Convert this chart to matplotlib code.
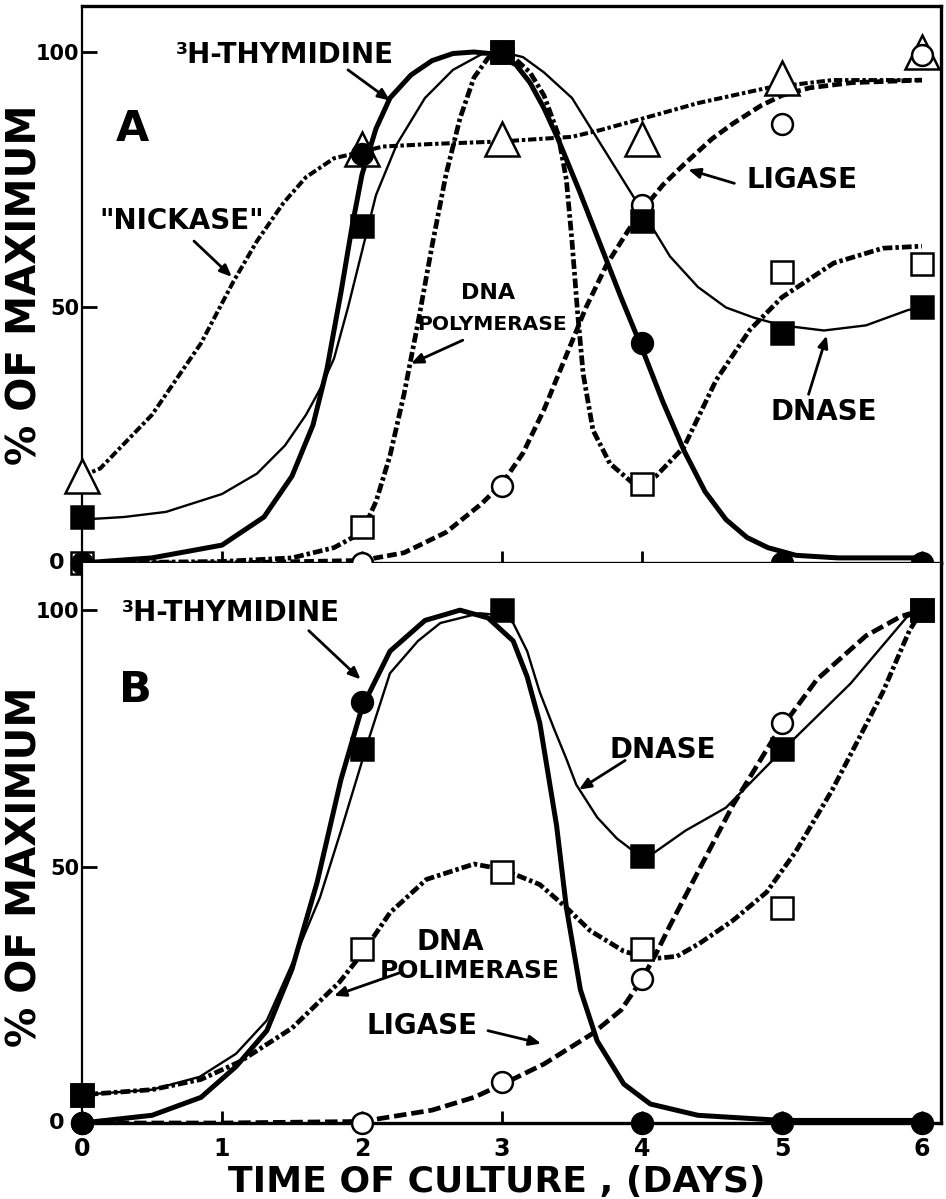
import matplotlib
matplotlib.use("Agg")
import matplotlib.pyplot as plt

plt.rcParams['font.family'] = ['DejaVu Sans']
plt.rcParams['font.weight'] = 'bold'
plt.rcParams['lines.scale_dashes'] = False

# ---------------- data: measured points ----------------
days = [0, 2, 3, 4, 5, 6]

A_thymidine = [0, 80, 100, 43, 0, 0]
A_dnase = [9, 66, 100, 67, 45, 50]
A_dnapol = [0, 7, 100, 15.5, 57, 58.5]
A_ligase = [0, 0, 15, 70, 86, 99.5]
A_nickase = [17, 81, 83, 83, 95, 100]

B_thymidine = [0, 82, 100, 0, 0, 0]
B_dnase = [5.5, 73, 100, 52, 73, 100]
B_dnapol = [5.5, 34, 49, 34, 42, 100]
B_ligase = [0, 0, 8, 28, 78, 100]

# ---------------- data: hand-drawn curves ----------------
A_thym_cx = [0, 0.5, 1.0, 1.3, 1.5, 1.65, 1.75, 1.85, 1.93, 2.0, 2.1, 2.2, 2.35, 2.5, 2.65, 2.8,
             2.95, 3.1, 3.2, 3.3, 3.4, 3.55, 3.7, 3.85, 4.0, 4.15, 4.3, 4.45, 4.6, 4.75, 4.9, 5.1, 5.4, 6.0]
A_thym_cy = [0, 1, 3.5, 9, 17, 27, 38, 53, 66, 76, 85, 91, 95.5, 98.3, 99.7, 100,
             99.6, 97.5, 94, 89, 83, 73, 62.5, 52, 42, 31.5, 22, 14, 8.5, 5, 3, 1.5, 1, 1]

A_dnase_cx = [0, 0.3, 0.6, 1.0, 1.25, 1.45, 1.6, 1.7, 1.8, 1.9, 2.0, 2.1, 2.25, 2.45, 2.65, 2.85,
              3.0, 3.15, 3.3, 3.5, 3.75, 4.0, 4.2, 4.4, 4.6, 4.8, 5.0, 5.3, 5.6, 5.9, 6.0]
A_dnase_cy = [8.5, 9, 10, 13.5, 17.5, 23, 29, 34, 40, 50, 61, 72, 82, 91, 96.5, 99.5,
              100, 99, 96, 91, 80, 69, 60, 54, 50, 48, 46.5, 45.5, 46.5, 49.5, 50]

A_pol_cx = [0, 1.0, 1.5, 1.8, 2.0, 2.1, 2.2, 2.3, 2.4, 2.5, 2.6, 2.7, 2.8, 2.9, 3.0, 3.1, 3.2, 3.3,
            3.4, 3.46, 3.5, 3.54, 3.58, 3.65, 3.77, 3.94, 4.1, 4.3, 4.53, 4.77, 5.0, 5.37, 5.72, 6.0]
A_pol_cy = [0, 0.3, 1, 3, 6, 12, 21, 33, 47, 62, 76, 87, 95, 98.8, 100, 98.5, 96, 91.5,
            84, 75, 63, 49, 37, 26, 19.5, 15.5, 17, 22.7, 35.8, 45.6, 52, 58.7, 61.6, 62]

A_lig_cx = [0, 1, 2, 2.3, 2.6, 2.85, 3.0, 3.15, 3.3, 3.45, 3.6, 3.75, 3.9, 4.0, 4.15, 4.3, 4.5,
            4.65, 4.85, 5.0, 5.2, 5.5, 6.0]
A_lig_cy = [0, 0, 0.5, 2, 6, 11.5, 15.5, 21.5, 30, 40, 50, 58.5, 65, 69, 74, 78, 83,
            86, 89.5, 91.5, 93, 94, 94.5]

A_nick_cx = [0, 0.13, 0.5, 0.85, 1.08, 1.25, 1.44, 1.6, 1.8, 2.0, 2.15, 2.5, 3.0, 3.5, 3.7, 4.1,
             4.4, 4.9, 5.36, 6.0]
A_nick_cy = [17, 18.5, 29, 43, 55, 63, 70.5, 75.5, 79.2, 80.5, 81.5, 82, 82.5, 83.4, 84.7, 87.7,
             90, 93, 94.5, 94.5]

B_thym_cx = [0, 0.5, 0.85, 1.1, 1.32, 1.5, 1.68, 1.85, 2.0, 2.2, 2.45, 2.7, 2.9, 3.08, 3.18, 3.27,
             3.33, 3.39, 3.46, 3.56, 3.68, 3.87, 4.06, 4.4, 5.0, 6.0]
B_thym_cy = [0, 1.5, 5, 11, 18, 30, 47, 67, 81, 92, 98, 100, 98.5, 94, 87, 78,
             68, 58, 42, 26, 16, 7.6, 3.7, 1.5, 0.5, 0.5]

B_dnase_cx = [0, 0.5, 0.84, 1.1, 1.32, 1.51, 1.7, 1.85, 2.05, 2.2, 2.4, 2.56, 2.84, 3.0, 3.08,
              3.18, 3.27, 3.37, 3.46, 3.53, 3.68, 3.82, 3.94, 4.05, 4.31, 4.6, 5.0, 5.49, 5.89, 6.0]
B_dnase_cy = [5.5, 6.5, 9, 13.5, 20, 31.6, 44, 57, 75, 87.7, 94, 97.5, 99.4, 99, 97.5,
              92, 84, 77, 71, 66, 59.6, 55.5, 53, 52, 57, 61.5, 72.6, 85.7, 98.6, 100]

B_pol_cx = [0, 0.5, 0.85, 1.13, 1.5, 1.84, 2.0, 2.2, 2.46, 2.8, 3.0, 3.27, 3.46, 3.63, 3.87, 4.06,
            4.25, 4.41, 4.65, 4.89, 5.1, 5.36, 5.55, 5.72, 5.91, 6.0]
B_pol_cy = [5.5, 6.5, 8.5, 12, 18.5, 27.5, 33, 41, 47.5, 50.5, 49.5, 46.5, 42, 37.5, 33.5, 32,
            32.5, 35, 39.5, 45, 53, 65, 75, 84, 96, 100]

B_lig_cx = [0, 1, 2, 2.5, 2.8, 3.0, 3.3, 3.65, 3.85, 4.0, 4.1, 4.2, 4.41, 4.65, 4.94, 5.25, 5.6, 5.85, 6.0]
B_lig_cy = [0, 0, 0.3, 2.5, 5, 7.5, 11.5, 17.5, 22, 28, 33, 38.5, 49.5, 62, 75, 86.5, 95, 98.8, 100]

x_ticks = [0, 1, 2, 3, 4, 5, 6]
y_ticks = [0, 50, 100]
y_ticklabels = ['', '50', '100']
zero_label = '0'

# ---------------- styles ----------------
W, H = 946, 1199
fig = plt.figure(figsize=(W / 100, H / 100), dpi=100)

def fx(px):
    return px / W

def fy(py):
    return 1 - py / H

axA = fig.add_axes([fx(82), fy(563), fx(941) - fx(82), fy(6) - fy(563)])
axB = fig.add_axes([fx(82), fy(1123), fx(941) - fx(82), fy(563) - fy(1123)])

THICK = 3.6
THIN = 1.7
dashdot = (0, (7, 2.2, 2.5, 2.2))
nickdash = (0, (6, 2, 2.5, 2))
dashed = (0, (7, 3))
dashedB = (0, (9, 3.5))

sq = 16
ci = 15
tri = 24
mew = 1.8

def setup(ax, ytop):
    ax.set_xlim(0, 6.136)
    ax.set_ylim(0, ytop)
    ax.set_yticks(y_ticks)
    ax.set_yticklabels(y_ticklabels, fontsize=15, fontweight='bold')
    ax.set_xticks(x_ticks)
    ax.tick_params(axis='y', direction='in', length=11, width=2, pad=2)
    ax.tick_params(axis='x', direction='in', length=9, width=2, pad=10)
    ax.spines['left'].set_linewidth(1.6)
    for s in ['right', 'top', 'bottom']:
        ax.spines[s].set_linewidth(2.4)
    # the "0" label of the y scale sits left of the markers drawn on the axis
    ax.text(-0.18, 0, zero_label, fontsize=16, fontweight='bold', ha='center', va='center',
            clip_on=False)

def marks(ax, ys, marker, filled, size):
    ax.plot(days, ys, linestyle='none', marker=marker, markersize=size,
            markerfacecolor='black' if filled else 'white', markeredgecolor='black',
            markeredgewidth=mew, clip_on=False, zorder=6)

def arrow(ax, tail, tip):
    ax.annotate('', xy=tip, xytext=tail,
                arrowprops=dict(arrowstyle='-|>,head_length=0.7,head_width=0.3',
                                lw=2.0, color='black', shrinkA=0, shrinkB=0), zorder=7)

txt = dict(fontsize=20, fontweight='bold', ha='center', va='center', zorder=8)

# ---------------- Panel A ----------------
setup(axA, 109)
axA.tick_params(axis='x', labelbottom=False)
axA.plot(A_nick_cx, A_nick_cy, color='black', lw=2.9, linestyle=nickdash, zorder=3)
axA.plot(A_lig_cx, A_lig_cy, color='black', lw=3.4, linestyle=dashed, zorder=3)
axA.plot(A_pol_cx, A_pol_cy, color='black', lw=3.4, linestyle=dashdot, zorder=3)
axA.plot(A_dnase_cx, A_dnase_cy, color='black', lw=THIN, zorder=4)
axA.plot(A_thym_cx, A_thym_cy, color='black', lw=THICK, zorder=4, solid_capstyle='round')
marks(axA, A_nickase, '^', False, tri)
marks(axA, A_ligase, 'o', False, ci)
marks(axA, A_dnapol, 's', False, sq)
marks(axA, A_dnase, 's', True, sq)
marks(axA, A_thymidine, 'o', True, ci)

axA.text(0.36, 85, 'A', fontsize=31, fontweight='bold', ha='center', va='center')
axA.text(1.45, 99.5, '³H-THYMIDINE', **txt)
arrow(axA, (1.9, 96.5), (2.2, 90.5))
axA.text(0.71, 67, '"NICKASE"', **txt)
arrow(axA, (0.8, 63), (1.07, 56))
axA.text(2.9, 52.8, 'DNA', fontsize=16, fontweight='bold', ha='center', va='center', zorder=8)
axA.text(2.93, 46.6, 'POLYMERASE', fontsize=14.5, fontweight='bold', ha='center', va='center', zorder=8)
arrow(axA, (2.72, 43.6), (2.35, 39))
axA.text(5.14, 75, 'LIGASE', **txt)
arrow(axA, (4.66, 74.3), (4.33, 77))
axA.text(5.3, 29.5, 'DNASE', **txt)
arrow(axA, (5.19, 33), (5.32, 44.5))

# ---------------- Panel B ----------------
setup(axB, 109.2)
axB.set_xticklabels([str(v) for v in x_ticks], fontsize=17, fontweight='bold')
axB.spines['top'].set_visible(False)
axB.plot(B_lig_cx, B_lig_cy, color='black', lw=3.4, linestyle=dashedB, zorder=3)
axB.plot(B_pol_cx, B_pol_cy, color='black', lw=3.4, linestyle=dashdot, zorder=3)
axB.plot(B_dnase_cx, B_dnase_cy, color='black', lw=THIN, zorder=4)
axB.plot(B_thym_cx, B_thym_cy, color='black', lw=THICK, zorder=4, solid_capstyle='round')
marks(axB, B_ligase, 'o', False, ci)
marks(axB, B_dnapol, 's', False, sq)
marks(axB, B_dnase, 's', True, sq)
marks(axB, B_thymidine, 'o', True, ci)

axB.text(0.38, 84.5, 'B', fontsize=31, fontweight='bold', ha='center', va='center')
axB.text(1.06, 99.5, '³H-THYMIDINE', **txt)
arrow(axB, (1.62, 96), (1.99, 86.5))
axB.text(4.15, 72.7, 'DNASE', **txt)
arrow(axB, (3.88, 70.7), (3.55, 65))
axB.text(2.63, 35.2, 'DNA', **txt)
axB.text(2.77, 29.6, 'POLIMERASE', fontsize=18, fontweight='bold', ha='center', va='center', zorder=8)
arrow(axB, (2.27, 29.3), (1.8, 24.8))
axB.text(2.43, 19, 'LIGASE', **txt)
arrow(axB, (2.9, 18), (3.28, 15.5))

# axis titles placed as in the original figure
fig.text(fx(26), fy(285), '% OF MAXIMUM', rotation=90, fontsize=29, fontweight='bold',
         ha='center', va='center')
fig.text(fx(26), fy(867), '% OF MAXIMUM', rotation=90, fontsize=29, fontweight='bold',
         ha='center', va='center')
fig.text(fx(497), fy(1199), 'TIME OF CULTURE , (DAYS)', fontsize=26, fontweight='bold',
         ha='center', va='bottom')

fig.savefig('out.png', dpi=100)
